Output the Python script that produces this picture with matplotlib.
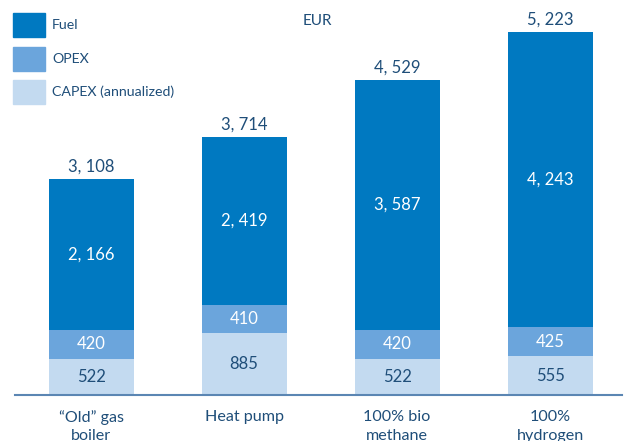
import matplotlib
matplotlib.use("Agg")
import matplotlib.pyplot as plt
import matplotlib.transforms as mtransforms
from matplotlib.patches import Rectangle

categories = ["\u201cOld\u201d gas\nboiler", "Heat pump", "100% bio\nmethane", "100%\nhydrogen"]
capex = [522, 885, 522, 555]
opex = [420, 410, 420, 425]
fuel = [2166, 2419, 3587, 4243]
totals = [3108, 3714, 4529, 5223]
series_names = ["Fuel", "OPEX", "CAPEX (annualized)"]

c_fuel = "#0079C1"
c_opex = "#6BA5DC"
c_capex = "#C3DAF0"
txt = "#1F4E79"

plt.rcParams['font.family'] = ['Lato', 'DejaVu Sans']

fig = plt.figure(figsize=(6.24, 4.41), dpi=100)
ax = fig.add_axes([15/624, 1 - 395/441, 607/624, 395/441])
x = list(range(len(categories)))
w = 0.555
b1 = ax.bar(x, capex, w, color=c_capex)
b2 = ax.bar(x, opex, w, bottom=capex, color=c_opex)
bot = [a + b for a, b in zip(capex, opex)]
b3 = ax.bar(x, fuel, w, bottom=bot, color=c_fuel)

def fmt(v):
    return f"{v:,}".replace(",", ", ")

fs = 12
for i in x:
    ax.text(i, capex[i] / 2, fmt(capex[i]), ha='center', va='center', color=txt, fontsize=fs)
    ax.text(i, capex[i] + opex[i] / 2, fmt(opex[i]), ha='center', va='center', color='white', fontsize=fs)
    ax.text(i, bot[i] + fuel[i] / 2, fmt(fuel[i]), ha='center', va='center', color='white', fontsize=fs)
    ax.annotate(fmt(totals[i]), (i, totals[i]), xytext=(0, 3), textcoords='offset points',
                ha='center', va='bottom', color=txt, fontsize=fs)

trans = mtransforms.blended_transform_factory(ax.transData, ax.transAxes)
for i, c in enumerate(categories):
    ax.text(i, -0.037, c, transform=trans, ha='center', va='top', color=txt, fontsize=11.6, linespacing=1.45)

ax.set_xlim(-0.497, 3.47)
ax.set_ylim(0, 5683)
for s in ['top', 'right', 'left']:
    ax.spines[s].set_visible(False)
ax.spines['bottom'].set_color('#5B86B3')
ax.spines['bottom'].set_linewidth(1.5)
ax.set_xticks([])
ax.set_yticks([])

# legend
colors = [c_fuel, c_opex, c_capex]
ys = [13, 47, 80]
for name, col, yy in zip(series_names, colors, ys):
    fig.patches.append(Rectangle((13/624, 1 - (yy + 24)/441), 32/624, 24/441,
                                 transform=fig.transFigure, color=col))
    fig.text(52/624, 1 - (yy + 12)/441, name, ha='left', va='center', color=txt, fontsize=10.2)

fig.text(317/624, 1 - 21/441, "EUR", ha='center', va='center', color=txt, fontsize=11)

fig.savefig("out.png", dpi=100)
